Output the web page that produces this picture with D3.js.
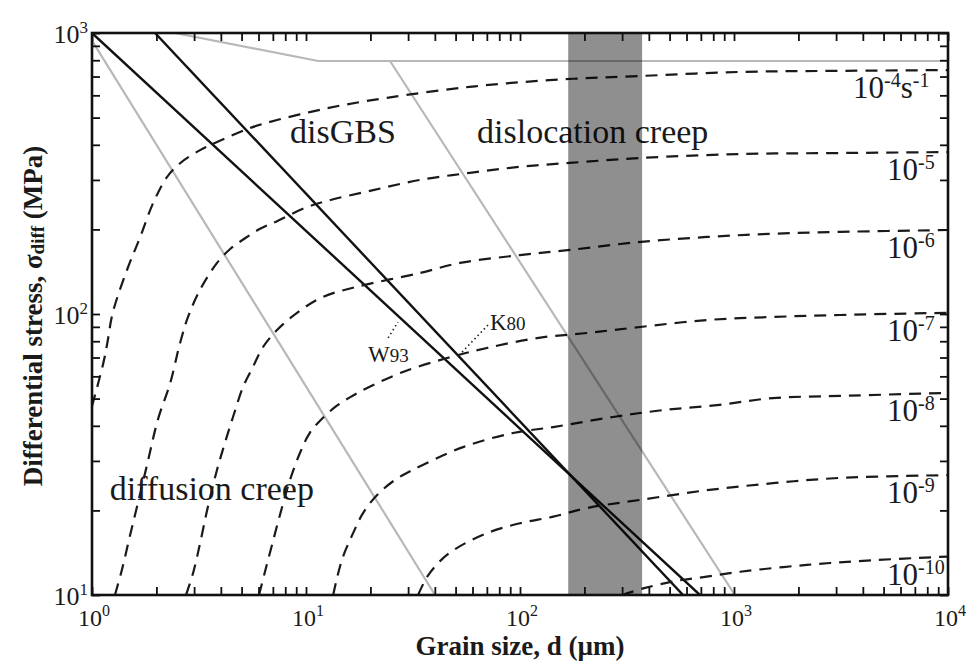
<!DOCTYPE html>
<html>
<head>
<meta charset="utf-8">
<script src="https://cdn.jsdelivr.net/npm/d3@7"></script>
<style>
  body { margin: 0; background: #fff; }
  text { font-family: "Liberation Serif", "Times New Roman", serif; fill: #1a1a1a; }
</style>
</head>
<body>
<div id="chart"></div>
<script>
// deformation map: grain size d (um) vs differential stress (MPa)
// values, [d, stress]

const rateExp = ["-4", "-5", "-6", "-7", "-8", "-9", "-10"];

const rate4 = [[1, 47], [1.13, 67], [1.18, 79], [1.25, 101], [1.46, 144], [1.68, 188], [1.93, 248],
    [2.24, 307], [2.58, 344], [3.2, 383], [3.84, 409], [5.47, 459], [7.32, 490], [10.4, 523],
    [14.9, 554], [23.9, 588], [58, 643], [143, 681], [364, 703], [1070, 727], [2900, 733], [10000, 738]];
const rate5 = [[1.28, 10], [1.38, 12.3], [1.5, 16.1], [1.64, 21.3], [1.83, 30.2], [2.03, 42], [2.32, 56.8],
    [2.58, 78.9], [2.81, 97.6], [3.2, 122], [3.84, 152], [4.41, 170], [5.19, 186], [6.1, 201], [7.32, 214],
    [10.1, 240], [12.9, 254], [20.6, 276], [34.1, 300], [58.4, 318], [100, 334], [171, 345], [364, 359],
    [1070, 371], [3130, 374], [10000, 377]];
const rate6 = [[2.75, 10], [2.97, 12], [3.2, 15.3], [3.48, 20.6], [3.84, 27.9], [4.18, 34.8], [4.56, 43],
    [5.08, 55], [5.65, 64.8], [6.3, 76.3], [7.32, 87.7], [9.08, 101], [12, 115], [17.3, 125], [34.1, 140],
    [52.4, 152], [100, 162], [171, 169], [352, 180], [748, 188], [1520, 193], [3130, 196], [10000, 199]];
const rate7 = [[6.03, 10], [6.43, 12.1], [6.94, 15.1], [7.56, 19.3], [8.42, 25.7], [9.37, 32], [10.4, 37.7],
    [11.6, 41.6], [13.7, 46.7], [16.1, 50.6], [18.9, 54.1], [28.4, 62.2], [45.6, 69.7], [70.1, 75.7],
    [120, 82.1], [206, 85.6], [364, 89.9], [748, 95.2], [1520, 97.6], [3130, 99.2], [10000, 101]];
const rate8 = [[13.4, 10], [14, 11.6], [14.9, 13.7], [16.6, 16.6], [18.5, 19.6], [21.5, 22.7], [26.1, 25.7],
    [31.6, 27.9], [54.2, 33.6], [92.7, 37.7], [143, 39.6], [272, 43], [466, 45.5], [833, 47.4],
    [1520, 50.2], [3130, 51.1], [10000, 52.4]];
const rate9 = [[33.4, 10], [36.8, 11.6], [42.3, 13.2], [50, 14.6], [70.1, 16.6], [100, 18], [143, 19],
    [206, 20.4], [364, 21.8], [748, 23.6], [1520, 25], [3130, 26.1], [10000, 26.7]];
const rate10 = [[300, 10], [384, 10.6], [530, 11.2], [732, 11.6], [1070, 12.1], [2190, 12.8],
    [4460, 13.3], [10000, 13.7]];

// field boundaries (grey) and the two disGBS flow laws (black)
const grayUpper = [[2.44, 1000], [11.4, 795], [10000, 795]];
const grayDisloc = [[24.7, 795], [1010, 10]];
const grayDiff = [[1, 940], [40.1, 10]];
const lineW93 = [[1, 1000], [693, 10]];
const lineK80 = [[1.97, 1000], [578, 10]];
const leaderW93 = [[24.2, 82.2], [26.9, 93.6]];
const leaderK80 = [[53.6, 73.2], [70.9, 91.4]];

// observed grain size range
const bandRange = [168, 372];

const xTickExp = [0, 1, 2, 3, 4];
const yTickExp = [1, 2, 3];

const margin = { top: 33, right: 18, bottom: 66, left: 92 },
    width = 966 - margin.left - margin.right,
    height = 661 - margin.top - margin.bottom;

const svg = d3.select("#chart")
    .append("svg")
    .attr("width", 966)
    .attr("height", 661)
    .append("g")
    .attr("transform", `translate(${margin.left},${margin.top})`);

const x = d3.scaleLog().domain([1, 10000]).range([0, width]);
const y = d3.scaleLog().domain([10, 1000]).range([height, 0]);

svg.append("clipPath").attr("id", "plot")
    .append("rect").attr("width", width).attr("height", height);

const plot = svg.append("g").attr("clip-path", "url(#plot)");

const line = d3.line()
    .x(function (d) { return x(d[0]); })
    .y(function (d) { return y(d[1]); });

const smooth = d3.line()
    .x(function (d) { return x(d[0]); })
    .y(function (d) { return y(d[1]); })
    .curve(d3.curveCatmullRom.alpha(0.5));

// grey boundaries
[grayUpper, grayDisloc, grayDiff].forEach(function (g) {
    plot.append("path")
        .datum(g)
        .attr("fill", "none")
        .attr("stroke", "#b8b8b8")
        .attr("stroke-width", 2.2)
        .attr("d", line);
});

// black flow laws
[lineW93, lineK80].forEach(function (g) {
    plot.append("path")
        .datum(g)
        .attr("fill", "none")
        .attr("stroke", "#111")
        .attr("stroke-width", 2.4)
        .attr("d", line);
});

// strain-rate contours
const rates = [rate4, rate5, rate6, rate7, rate8, rate9, rate10];
rates.forEach(function (r) {
    plot.append("path")
        .datum(r)
        .attr("fill", "none")
        .attr("stroke", "#1a1a1a")
        .attr("stroke-width", 2.2)
        .attr("stroke-dasharray", "12,8")
        .attr("d", smooth);
});

// dotted leaders
[leaderW93, leaderK80].forEach(function (g) {
    plot.append("path")
        .datum(g)
        .attr("fill", "none")
        .attr("stroke", "#222")
        .attr("stroke-width", 1.6)
        .attr("stroke-dasharray", "1.5,3")
        .attr("d", line);
});

// region labels
function label(txt, d, s, size) {
    svg.append("text")
        .attr("x", x(d))
        .attr("y", y(s))
        .attr("font-size", size)
        .text(txt);
}
label("disGBS", 8.42, 406, 34);
label("dislocation creep", 63, 406, 34);
label("diffusion creep", 1.21, 21.8, 34);

function refLabel(letter, num, d, s) {
    const t = svg.append("text")
        .attr("x", x(d))
        .attr("y", y(s))
        .attr("font-size", 23);
    t.append("tspan").text(letter);
    t.append("tspan").attr("font-size", 19).text(num);
}
refLabel("W", "93", 19.5, 67.4);
refLabel("K", "80", 72.4, 87.7);

// strain-rate labels, just under the right end of each contour
rates.forEach(function (r, i) {
    const last = r[r.length - 1];
    const t = svg.append("text")
        .attr("x", i == 0 ? width - 95 : width - 61)
        .attr("y", y(last[1]) + 28)
        .attr("font-size", 31);
    t.append("tspan").text("10");
    t.append("tspan").attr("font-size", 20).attr("dy", -11).text(rateExp[i]);
    if (i == 0) {
        t.append("tspan").attr("font-size", 31).attr("dy", 11).text("s");
        t.append("tspan").attr("font-size", 20).attr("dy", -11).text("-1");
    }
});

// grain size range band
svg.append("rect")
    .attr("x", x(bandRange[0]))
    .attr("y", 0)
    .attr("width", x(bandRange[1]) - x(bandRange[0]))
    .attr("height", height)
    .attr("fill", "#000")
    .attr("opacity", 0.44);

// axes, ticks inward on all four sides
function logTicks(lo, hi) {
    var t = [];
    for (var e = lo; e < hi; e++) {
        for (var k = 1; k < 10; k++) t.push(k * Math.pow(10, e));
    }
    t.push(Math.pow(10, hi));
    return t;
}
const xTicks = logTicks(0, 4);
const yTicks = logTicks(1, 3);

function styleAxis(g) {
    g.select(".domain").remove();
    g.selectAll(".tick line").attr("stroke", "#111").attr("stroke-width", 1.8);
}

svg.append("g").attr("transform", `translate(0,${height})`)
    .call(d3.axisBottom(x).tickValues(xTicks).tickSize(-8).tickFormat(""))
    .call(styleAxis);
svg.append("g")
    .call(d3.axisTop(x).tickValues(xTicks).tickSize(-8).tickFormat(""))
    .call(styleAxis);
svg.append("g")
    .call(d3.axisLeft(y).tickValues(yTicks).tickSize(-8).tickFormat(""))
    .call(styleAxis);
svg.append("g").attr("transform", `translate(${width},0)`)
    .call(d3.axisRight(y).tickValues(yTicks).tickSize(-8).tickFormat(""))
    .call(styleAxis);

svg.append("rect")
    .attr("width", width)
    .attr("height", height)
    .attr("fill", "none")
    .attr("stroke", "#111")
    .attr("stroke-width", 2.6);

// tick labels
xTickExp.forEach(function (e) {
    const t = svg.append("text")
        .attr("x", x(Math.pow(10, e)) + 2)
        .attr("y", height + 30.5)
        .attr("text-anchor", "middle")
        .attr("font-size", 24);
    t.append("tspan").text("10");
    t.append("tspan").attr("font-size", 16).attr("dy", -10).text(e);
});
yTickExp.forEach(function (e) {
    const t = svg.append("text")
        .attr("x", -4)
        .attr("y", y(Math.pow(10, e)) + 10)
        .attr("text-anchor", "end")
        .attr("font-size", 26);
    t.append("tspan").text("10");
    t.append("tspan").attr("font-size", 17).attr("dy", -10).text(e);
});

// axis titles
svg.append("text")
    .attr("x", width / 2)
    .attr("y", height + 60)
    .attr("text-anchor", "middle")
    .attr("font-size", 27)
    .attr("font-weight", "bold")
    .text("Grain size, d (\u00b5m)");

const yt = svg.append("text")
    .attr("transform", `translate(${-50},${height / 2 + 2}) rotate(-90)`)
    .attr("text-anchor", "middle")
    .attr("font-size", 27)
    .attr("font-weight", "bold");
yt.append("tspan").text("Differential stress, \u03c3");
yt.append("tspan").attr("font-size", 19).attr("dy", 2).text("diff");
yt.append("tspan").attr("dy", -2).text(" (MPa)");
</script>
</body>
</html>
